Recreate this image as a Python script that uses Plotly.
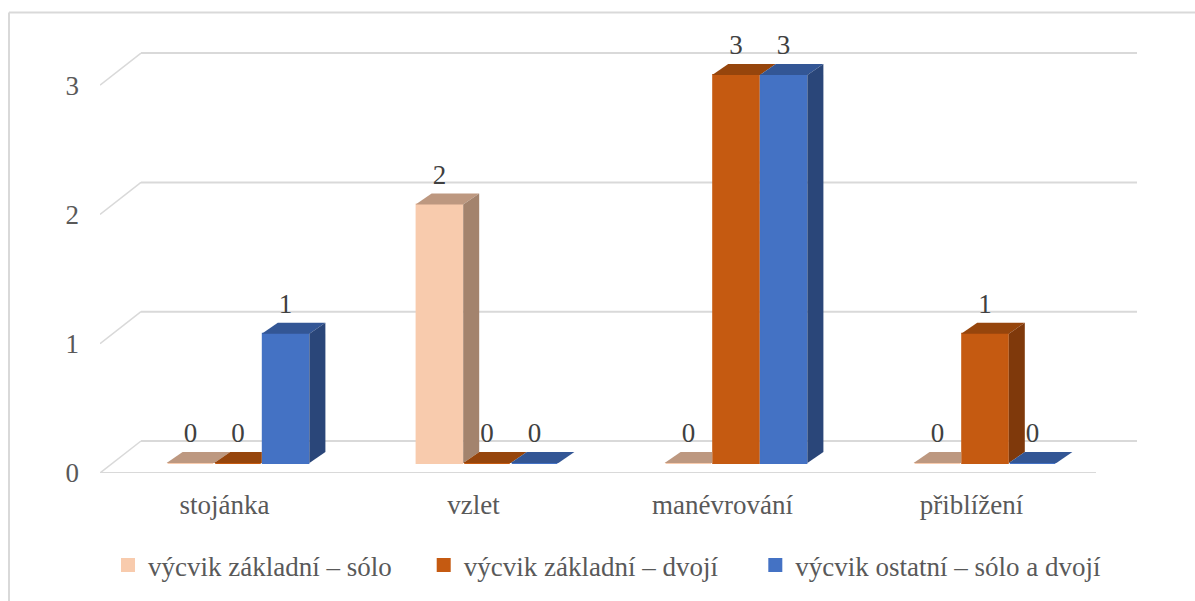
import plotly.graph_objects as go

categories = ["stojánka", "vzlet", "manévrování", "přiblížení"]
series_names = ["výcvik základní – sólo", "výcvik základní – dvojí", "výcvik ostatní – sólo a dvojí"]
solo = [0, 2, 0, 0]
dvoji = [0, 0, 3, 1]
ostatni = [1, 0, 3, 0]
y_ticks = [0, 1, 2, 3]

series = [solo, dvoji, ostatni]
front = ["#F8CBAD", "#C55A11", "#4472C4"]
top = ["#BD9880", "#96450C", "#335695"]
side = ["#A3836D", "#7F390B", "#2A4679"]
legend_pad = ["\u00a0" * 4, "\u00a0" * 4 + "\u2009", ""]

W, H = 1195, 601
PX_X, PX_Y = 249.0, 129.3          # pixels per category / per value unit
ML, MR, MT, MB = 100, W - 1137, 30, H - 473
BAR = 47.6 / PX_X
SHIFT_X, SHIFT_Y = 13.5 / PX_X, 10 / PX_Y   # front of the box to front of the bars
DX, DY = 16 / PX_X, 11 / PX_Y             # bar depth
BX, BY = 41 / PX_X, 32 / PX_Y             # box depth

# x = 0 is the centre of the first category on the front edge of the floor
x0 = -0.5
x1 = x0 + (W - MR - ML) / PX_X
y0 = -SHIFT_Y
y1 = y0 + (H - MB - MT) / PX_Y
front_right = x0 + 4
TEXT = "#595959"
FONT = "Liberation Serif"


def paper_x(px):
    return (px - ML) / (W - ML - MR)


def paper_y(py):
    return (H - MB - py) / (H - MB - MT)


fig = go.Figure()

# back wall, floor and side-wall grid
shapes = []
line = dict(color="#D9D9D9", width=2)
for v in y_ticks:
    fy = v + y0
    shapes.append(dict(type="line", xref="x", yref="y", layer="below", x0=x0, y0=fy, x1=x0 + BX, y1=fy + BY,
                       line=dict(color="#D9D9D9", width=1.5)))
    shapes.append(dict(type="line", xref="x", yref="y", layer="below", x0=x0 + BX, y0=fy + BY, x1=x1, y1=fy + BY, line=line))
shapes.append(dict(type="line", xref="x", yref="y", layer="below", x0=x0, y0=y0, x1=front_right, y1=y0, line=line))
frame = dict(color="#D9D9D9", width=2)
shapes.append(dict(type="line", xref="paper", yref="paper", layer="below",
                   x0=paper_x(9), x1=paper_x(W), y0=paper_y(12.5), y1=paper_y(12.5), line=frame))
shapes.append(dict(type="line", xref="paper", yref="paper", layer="below",
                   x0=paper_x(9), x1=paper_x(9), y0=paper_y(12.5), y1=paper_y(H), line=frame))

n = len(series)
for s, values in enumerate(series):
    offs = SHIFT_X + (s - n / 2) * BAR
    fig.add_trace(go.Bar(
        x=list(range(len(categories))), y=values, base=0, name=series_names[s] + legend_pad[s],
        width=BAR - 2 / PX_X, offset=offs + 1 / PX_X,
        marker=dict(color=front[s], line=dict(color=front[s], width=2)),
        hoverinfo="skip", showlegend=True,
    ))

for s, values in enumerate(series):
    following = series[s + 1] if s + 1 < n else [None] * len(values)
    for i, v in enumerate(values):
        left = i + SHIFT_X + (s - n / 2) * BAR
        right = left + BAR
        nxt = following[i]
        # top face, cut where the next bar's front hides it
        if nxt is not None and nxt > v:
            tx = [left, right, right, left + DX, left]
        else:
            tx = [left, right, right + DX, left + DX, left]
        ty = [v, v, v + DY, v + DY, v]
        fig.add_trace(go.Scatter(x=tx, y=ty, mode="lines", fill="toself", fillcolor=top[s],
                                 line=dict(width=0, color=top[s]), showlegend=False, hoverinfo="skip"))
        # side face, only above the next bar
        floor_v = 0 if nxt is None else nxt
        if v > floor_v:
            fig.add_trace(go.Scatter(
                x=[right, right + DX, right + DX, right, right],
                y=[floor_v, floor_v + DY, v + DY, v, floor_v],
                mode="lines", fill="toself", fillcolor=side[s],
                line=dict(width=0, color=side[s]), showlegend=False, hoverinfo="skip"))

# data labels
for s, values in enumerate(series):
    fig.add_trace(go.Scatter(
        x=[i + SHIFT_X + (s - n / 2 + 0.5) * BAR for i in range(len(values))],
        y=[v + DY + 3 / PX_Y for v in values],
        mode="text", text=[str(v) for v in values], textposition="top center",
        textfont=dict(family=FONT, size=27, color="#404040"),
        cliponaxis=False, showlegend=False, hoverinfo="skip",
    ))

fig.update_layout(
    width=W, height=H, margin=dict(l=ML, r=MR, t=MT, b=MB, autoexpand=False),
    paper_bgcolor="white", plot_bgcolor="rgba(0,0,0,0)", barmode="overlay",
    shapes=shapes, font=dict(family=FONT, color=TEXT, size=27),
    legend=dict(orientation="h", x=paper_x(108), xanchor="left", y=paper_y(541), yanchor="top",
                traceorder="normal",
                font=dict(family=FONT, size=27, color=TEXT), bgcolor="rgba(0,0,0,0)"),
    xaxis=dict(range=[x0, x1], tickvals=list(range(len(categories))), ticktext=categories,
               showgrid=False, zeroline=False, showline=False, ticks="",
               tickfont=dict(family=FONT, size=27, color=TEXT), ticklabelstandoff=13),
    yaxis=dict(range=[y0, y1], tickvals=[v + y0 for v in y_ticks], ticktext=[str(v) for v in y_ticks],
               showgrid=False, zeroline=False, showline=False, ticks="",
               tickfont=dict(family=FONT, size=27, color=TEXT), ticklabelstandoff=20),
)
fig.write_html("out.html", config=dict(displayModeBar=False),
               post_script="document.body.style.margin='0';document.body.style.overflow='hidden';")
